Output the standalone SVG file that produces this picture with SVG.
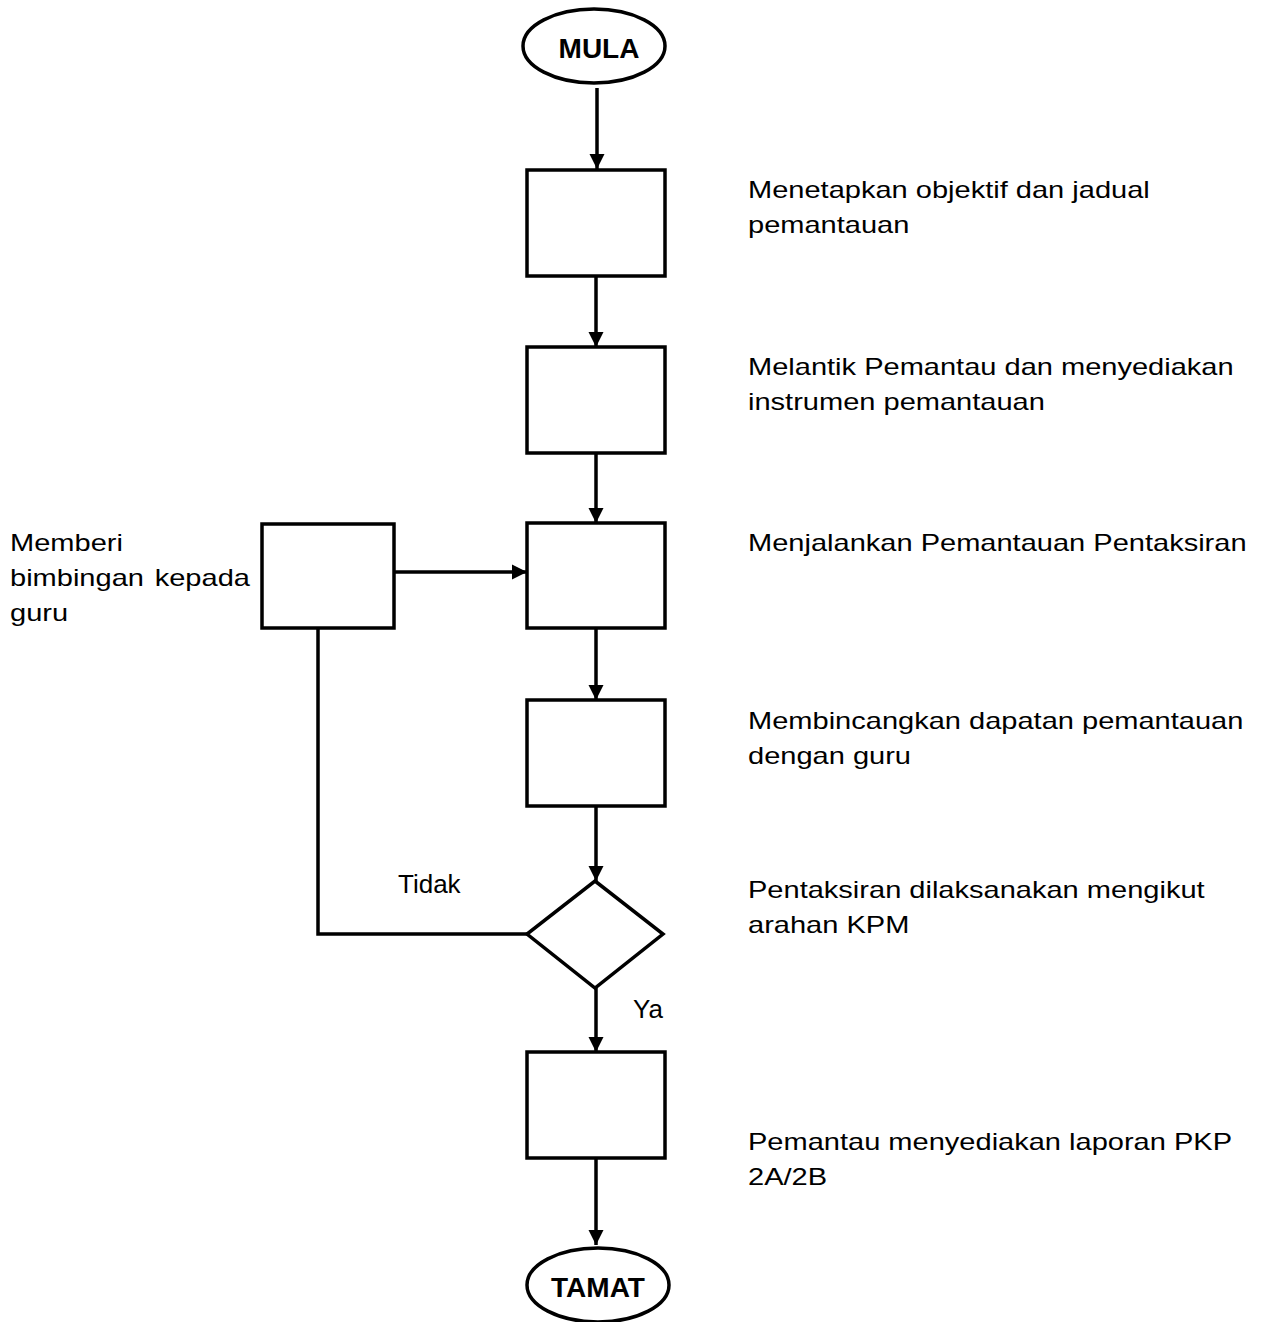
<svg xmlns="http://www.w3.org/2000/svg" width="1264" height="1322" viewBox="0 0 1264 1322">
<defs>
<marker id="ah" markerWidth="16" markerHeight="16" refX="15" refY="8" orient="auto" markerUnits="userSpaceOnUse">
<path d="M0,0.5 L15,8 L0,15.5 Z" fill="#000"/>
</marker>
<style>
.shape{fill:#fff;stroke:#000;stroke-width:3.5}
.conn{fill:none;stroke:#000;stroke-width:3.5}
.t{font-family:"Liberation Sans",Arial,sans-serif;font-size:24px;fill:#000}
.lbl{font-family:"Liberation Sans",Arial,sans-serif;font-size:26px;fill:#000}
.term{font-family:"Liberation Sans",Arial,sans-serif;font-size:28px;font-weight:bold;fill:#000;text-anchor:middle}
</style>
</defs>
<rect width="1264" height="1322" fill="#fff"/>
<g id="connectors">
<line class="conn" x1="597" y1="88" x2="597" y2="169" marker-end="url(#ah)"/>
<line class="conn" x1="596" y1="276" x2="596" y2="347" marker-end="url(#ah)"/>
<line class="conn" x1="596" y1="453" x2="596" y2="523" marker-end="url(#ah)"/>
<line class="conn" x1="394" y1="572" x2="527" y2="572" marker-end="url(#ah)"/>
<line class="conn" x1="596" y1="628" x2="596" y2="700" marker-end="url(#ah)"/>
<line class="conn" x1="596" y1="806" x2="596" y2="881" marker-end="url(#ah)"/>
<polyline class="conn" points="318,628 318,934 527,934"/>
<line class="conn" x1="596" y1="988" x2="596" y2="1052" marker-end="url(#ah)"/>
<line class="conn" x1="596" y1="1158" x2="596" y2="1245" marker-end="url(#ah)"/>
<text class="lbl" x="398" y="893">Tidak</text>
<text class="lbl" x="633" y="1018">Ya</text>
</g>
<g id="mula">
<ellipse class="shape" cx="594" cy="46" rx="71" ry="37"/>
<text class="term" x="599" y="58">MULA</text>
</g>
<g id="n1">
<rect class="shape" x="527" y="170" width="138" height="106"/>
<g transform="translate(748,0) scale(1.21,1)">
<text class="t" x="0" y="198">Menetapkan objektif dan jadual</text>
<text class="t" x="0" y="233">pemantauan</text>
</g>
</g>
<g id="n2">
<rect class="shape" x="527" y="347" width="138" height="106"/>
<g transform="translate(748,0) scale(1.21,1)">
<text class="t" x="0" y="375">Melantik Pemantau dan menyediakan</text>
<text class="t" x="0" y="410">instrumen pemantauan</text>
</g>
</g>
<g id="n3">
<rect class="shape" x="527" y="523" width="138" height="105"/>
<g transform="translate(748,0) scale(1.21,1)">
<text class="t" x="0" y="551">Menjalankan Pemantauan Pentaksiran</text>
</g>
</g>
<g id="nleft">
<rect class="shape" x="262" y="524" width="132" height="104"/>
<g transform="translate(10,0) scale(1.21,1)">
<text class="t" x="0" y="551">Memberi</text>
<text class="t" x="0" y="586">bimbingan</text>
<text class="t" x="119.6" y="586">kepada</text>
<text class="t" x="0" y="621">guru</text>
</g>
</g>
<g id="n4">
<rect class="shape" x="527" y="700" width="138" height="106"/>
<g transform="translate(748,0) scale(1.21,1)">
<text class="t" x="0" y="729">Membincangkan dapatan pemantauan</text>
<text class="t" x="0" y="764">dengan guru</text>
</g>
</g>
<g id="dec">
<polygon class="shape" points="595,881 663,934 595,988 527,934"/>
<g transform="translate(748,0) scale(1.21,1)">
<text class="t" x="0" y="898">Pentaksiran dilaksanakan mengikut</text>
<text class="t" x="0" y="933">arahan KPM</text>
</g>
</g>
<g id="n5">
<rect class="shape" x="527" y="1052" width="138" height="106"/>
<g transform="translate(748,0) scale(1.21,1)">
<text class="t" x="0" y="1150">Pemantau menyediakan laporan PKP</text>
<text class="t" x="0" y="1185">2A/2B</text>
</g>
</g>
<g id="tamat">
<ellipse class="shape" cx="598" cy="1285" rx="71" ry="37"/>
<text class="term" x="598" y="1297">TAMAT</text>
</g>
</svg>
